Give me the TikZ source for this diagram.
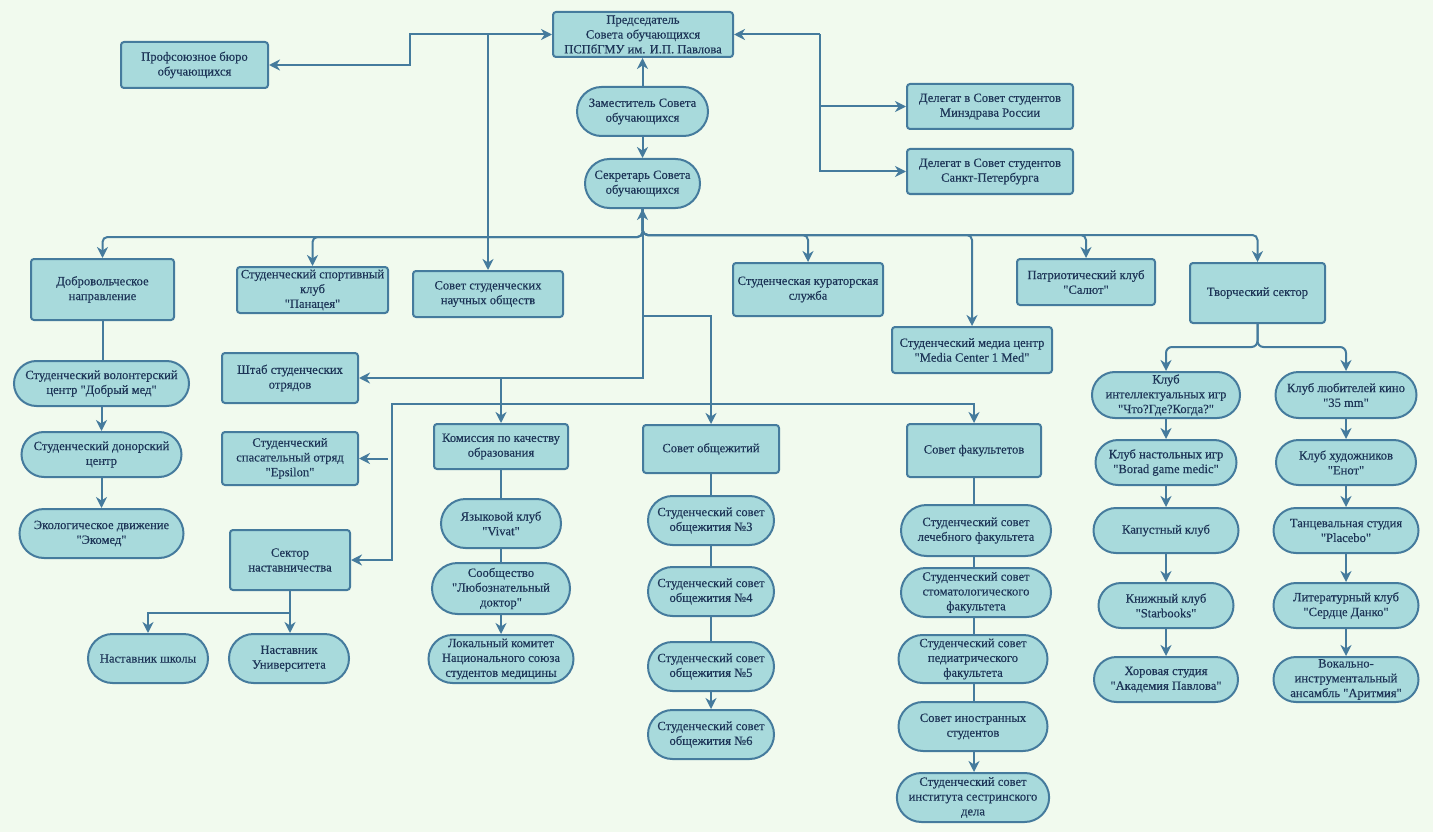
\documentclass[tikz,border=0pt]{standalone}
\usepackage{fontspec}
\setmainfont{Liberation Serif}[Ligatures=TeXOff,FakeBold=0.35]
\usetikzlibrary{arrows.meta,shapes.misc}
\definecolor{bgc}{HTML}{F1FAEE}
\definecolor{fillc}{HTML}{A8DADC}
\definecolor{edgec}{HTML}{457B9D}
\definecolor{textc}{HTML}{1D3557}
\newcommand\nf{\fontsize{12.6}{14.8}\selectfont}
\tikzset{
  rbox/.style={draw=edgec, fill=fillc, line width=2pt, rounded corners=3pt, align=center, inner sep=1pt, font=\nf, text=textc},
  sbox/.style={rounded rectangle, draw=edgec, fill=fillc, line width=2pt, align=center, inner sep=1pt, font=\nf, text=textc},
  conn/.style={draw=edgec, line width=2pt},
  arr/.style={conn, -{Stealth[length=11pt,width=11pt,inset=3.5pt]}},
  arrb/.style={conn, {Stealth[length=11pt,width=11pt,inset=3.5pt]}-{Stealth[length=11pt,width=11pt,inset=3.5pt]}},
}
\begin{document}
\begin{tikzpicture}[x=1pt,y=-1pt]
\useasboundingbox (0,0) rectangle (1433,832);
\fill[bgc] (0,0) rectangle (1433,832);

% top
\node[rbox, minimum width=147, minimum height=46] (prof) at (194.5,65) {Профсоюзное бюро\\обучающихся};
\node[rbox, minimum width=180, minimum height=45] (pred) at (643,34.5) {Председатель\\Совета обучающихся\\ПСПбГМУ им. И.П. Павлова};
\node[sbox, minimum width=133, minimum height=49] (zam) at (642.5,111.5) {Заместитель Совета\\обучающихся};
\node[sbox, minimum width=117, minimum height=49] (sek) at (642.5,183.5) {Секретарь Совета\\обучающихся};
\node[rbox, minimum width=166, minimum height=45] (del1) at (990,106.5) {Делегат в Совет студентов\\Минздрава России};
\node[rbox, minimum width=166, minimum height=45] (del2) at (990,171.5) {Делегат в Совет студентов\\Санкт-Петербурга};

% second row
\node[rbox, minimum width=143, minimum height=61] (dobr) at (102.5,289.5) {Добровольческое\\направление};
\node[rbox, minimum width=151, minimum height=46] (sport) at (312.5,290) {Студенческий спортивный\\клуб\\"Панацея"};
\node[rbox, minimum width=150, minimum height=46] (sno) at (488,294) {Совет студенческих\\научных обществ};
\node[rbox, minimum width=150, minimum height=53] (kur) at (808,289.5) {Студенческая кураторская\\служба};
\node[rbox, minimum width=160, minimum height=46] (media) at (972,350) {Студенческий медиа центр\\"Media Center 1 Med"};
\node[rbox, minimum width=138, minimum height=46] (patr) at (1086,282) {Патриотический клуб\\"Салют"};
\node[rbox, minimum width=135, minimum height=60] (tvor) at (1257.5,293) {Творческий сектор};

% left middle
\node[rbox, minimum width=136, minimum height=50] (stab) at (290,378) {Штаб студенческих\\отрядов};
\node[rbox, minimum width=136, minimum height=53] (eps) at (290,458.5) {Студенческий\\спасательный отряд\\"Epsilon"};
\node[rbox, minimum width=120, minimum height=60] (nast) at (290,560) {Сектор\\наставничества};
\node[sbox, minimum width=122, minimum height=49] (shk) at (148,658.5) {Наставник школы};
\node[sbox, minimum width=122, minimum height=49] (uni) at (289,658.5) {Наставник\\Университета};

% volunteer column
\node[sbox, minimum width=177, minimum height=45] (vol) at (101.5,383.5) {Студенческий волонтерский\\центр "Добрый мед"};
\node[sbox, minimum width=162, minimum height=45] (don) at (101.5,454.5) {Студенческий донорский\\центр};
\node[sbox, minimum width=166, minimum height=49] (eko) at (101.5,533.5) {Экологическое движение\\"Экомед"};

% commission column
\node[rbox, minimum width=134, minimum height=45] (kom) at (501,446.5) {Комиссия по качеству\\образования};
\node[sbox, minimum width=122, minimum height=49] (yaz) at (501,523.5) {Языковой клуб\\"Vivat"};
\node[sbox, minimum width=140, minimum height=51] (soob) at (501,588.5) {Сообщество\\"Любознательный\\доктор"};
\node[sbox, minimum width=147, minimum height=48] (lok) at (501,659) {Локальный комитет\\Национального союза\\студентов медицины};

% dorm column
\node[rbox, minimum width=136, minimum height=48] (obsh) at (711,449) {Совет общежитий};
\node[sbox, minimum width=128, minimum height=49] (o3) at (711,520.5) {Студенческий совет\\общежития №3};
\node[sbox, minimum width=128, minimum height=49] (o4) at (711,591.5) {Студенческий совет\\общежития №4};
\node[sbox, minimum width=128, minimum height=49] (o5) at (711,666.5) {Студенческий совет\\общежития №5};
\node[sbox, minimum width=128, minimum height=49] (o6) at (711,734.5) {Студенческий совет\\общежития №6};

% faculty column
\node[rbox, minimum width=134, minimum height=53] (fak) at (974,450.5) {Совет факультетов};
\node[sbox, minimum width=152, minimum height=51] (f1) at (976,530.5) {Студенческий совет\\лечебного факультета};
\node[sbox, minimum width=152, minimum height=49] (f2) at (976,592.5) {Студенческий совет\\стоматологического\\факультета};
\node[sbox, minimum width=151, minimum height=48] (f3) at (973,659) {Студенческий совет\\педиатрического\\факультета};
\node[sbox, minimum width=151, minimum height=49] (f4) at (973,726.5) {Совет иностранных\\студентов};
\node[sbox, minimum width=151, minimum height=49] (f5) at (973,797.5) {Студенческий совет\\института сестринского\\дела};

% creative columns
\node[sbox, minimum width=143, minimum height=46] (int) at (1166,395) {Клуб\\интеллектуальных игр\\"Что?Где?Когда?"};
\node[sbox, minimum width=143, minimum height=45] (nas) at (1166,462.5) {Клуб настольных игр\\"Borad game medic"};
\node[sbox, minimum width=147, minimum height=45] (kap) at (1166,530.5) {Капустный клуб};
\node[sbox, minimum width=137, minimum height=45] (kni) at (1166,605.5) {Книжный клуб\\"Starbooks"};
\node[sbox, minimum width=146, minimum height=45] (hor) at (1166,679.5) {Хоровая студия\\"Академия Павлова"};
\node[sbox, minimum width=143, minimum height=46] (kino) at (1346,395) {Клуб любителей кино\\"35 mm"};
\node[sbox, minimum width=142, minimum height=45] (hud) at (1346,462.5) {Клуб художников\\"Енот"};
\node[sbox, minimum width=147, minimum height=45] (tan) at (1346,530.5) {Танцевальная студия\\"Placebo"};
\node[sbox, minimum width=147, minimum height=45] (lit) at (1346,605.5) {Литературный клуб\\"Сердце Данко"};
\node[sbox, minimum width=147, minimum height=45] (vok) at (1346,679.5) {Вокально-\\инструментальный\\ансамбль "Аритмия"};

% helper coordinates
\coordinate (xA) at (410,0);
\coordinate (xB) at (820,0);
\coordinate (yL) at (0,237);
\coordinate (yR) at (0,235);
\coordinate (yO) at (0,316);
\coordinate (yH) at (0,404);
\coordinate (xH) at (392,0);
\coordinate (epsS) at (388,458.5);
\coordinate (yN) at (0,613);
\coordinate (yT) at (0,347);

% top connectors
\draw[arrb] (prof.east) -- (prof.east -| xA) |- (pred.west);
\draw[arr] (pred.west -| sno.north) -- (sno.north);
\draw[arr] (zam.north) -- (zam.north |- pred.south);
\draw[arr] (zam.south) -- (zam.south |- sek.north);
\draw[arr] (pred.east -| xB) -- (pred.east);
\draw[arr] (pred.east -| xB) |- (del1.west);
\draw[arr] (pred.east -| xB) |- (del2.west);

% secretary bus
\draw[arrb] (sek.south) |- (stab.east);
\draw[arr, rounded corners=5pt] (sek.south) |- (dobr.north |- yL) -- (dobr.north);
\draw[arr, rounded corners=5pt] (sek.south) |- (sport.north |- yL) -- (sport.north);
\draw[arr, rounded corners=5pt] (sek.south) |- (kur.north |- yR) -- (kur.north);
\draw[arr, rounded corners=5pt] (sek.south) |- (media.north |- yR) -- (media.north);
\draw[arr, rounded corners=5pt] (sek.south) |- (patr.north |- yR) -- (patr.north);
\draw[arr, rounded corners=5pt] (sek.south) |- (tvor.north |- yR) -- (tvor.north);
\draw[arr] (sek.south |- yO) -| (obsh.north);
\draw[arr] (kom.north |- stab.east) -- (kom.north);
\draw[arr] (kom.north |- yH) -| (fak.north);
\draw[arr] (kom.north |- yH) -- (xH |- yH) |- (nast.east);
\draw[arr] (epsS) -- (eps.east);

% volunteer column
\draw[conn] (dobr.south) -- (dobr.south |- vol.north);
\draw[arr] (vol.south) -- (vol.south |- don.north);
\draw[arr] (don.south) -- (don.south |- eko.north);

% mentoring
\draw[arr] (nast.south) -- (nast.south |- yN) -| (shk.north);
\draw[arr] (nast.south) -- (nast.south |- uni.north);

% commission column
\draw[conn] (kom.south) -- (kom.south |- yaz.north);
\draw[conn] (yaz.south) -- (yaz.south |- soob.north);
\draw[arr] (soob.south) -- (soob.south |- lok.north);

% dorm column
\draw[conn] (obsh.south) -- (obsh.south |- o3.north);
\draw[conn] (o3.south) -- (o3.south |- o4.north);
\draw[conn] (o4.south) -- (o4.south |- o5.north);
\draw[arr] (o5.south) -- (o5.south |- o6.north);

% faculty column
\draw[conn] (fak.south) -- (fak.south |- f1.north);
\draw[conn] (fak.south |- f1.south) -- (fak.south |- f2.north);
\draw[conn] (fak.south |- f2.south) -- (fak.south |- f3.north);
\draw[conn] (fak.south |- f3.south) -- (fak.south |- f4.north);
\draw[arr] (fak.south |- f4.south) -- (fak.south |- f5.north);

% creative sector
\draw[arr, rounded corners=6pt] (tvor.south) -- (tvor.south |- yT) -| (int.north);
\draw[arr, rounded corners=6pt] (tvor.south) -- (tvor.south |- yT) -| (kino.north);
\draw[arr] (int.south) -- (int.south |- nas.north);
\draw[arr] (nas.south) -- (nas.south |- kap.north);
\draw[arr] (kap.south) -- (kap.south |- kni.north);
\draw[arr] (kni.south) -- (kni.south |- hor.north);
\draw[arr] (kino.south) -- (kino.south |- hud.north);
\draw[arr] (hud.south) -- (hud.south |- tan.north);
\draw[arr] (tan.south) -- (tan.south |- lit.north);
\draw[arr] (lit.south) -- (lit.south |- vok.north);
\end{tikzpicture}
\end{document}
